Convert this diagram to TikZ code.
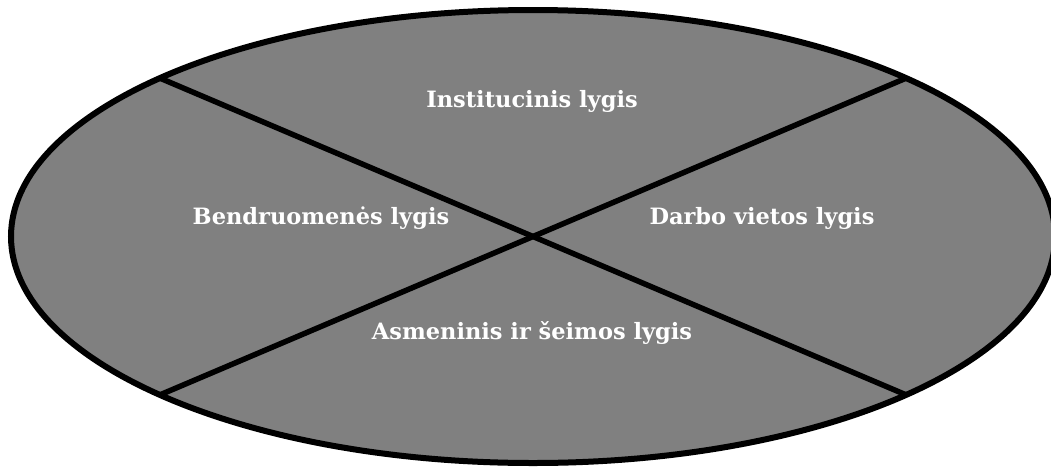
\documentclass[tikz,border=0pt]{standalone}
\usepackage{fontspec}
\setmainfont{DejaVu Serif}
\usepackage{tikz}
\usetikzlibrary{shapes.geometric}

\begin{document}
\begin{tikzpicture}[x=1pt, y=-1pt,
  lvl/.style={text=white, font=\bfseries\fontsize{22.5}{25}\selectfont, inner sep=0pt}]
\useasboundingbox (0,0) rectangle (1051,466);
\node[ellipse, draw, line width=6pt, fill={rgb,255:red,128;green,128;blue,128},
  minimum width=1044pt, minimum height=453pt, inner sep=0pt, outer sep=0pt] (plate) at (533,236.5) {};
\draw[line width=5.5pt] (plate.157) to (plate.337);
\draw[line width=5.5pt] (plate.203) to (plate.23);
\node[lvl] (inst) at (532,101) {Institucinis lygis};
\node[lvl] (bend) at (321,218) {Bendruomenės lygis};
\node[lvl] (darb) at (762,218) {Darbo vietos lygis};
\node[lvl] (asm) at (532,333) {Asmeninis ir šeimos lygis};
\end{tikzpicture}
\end{document}
